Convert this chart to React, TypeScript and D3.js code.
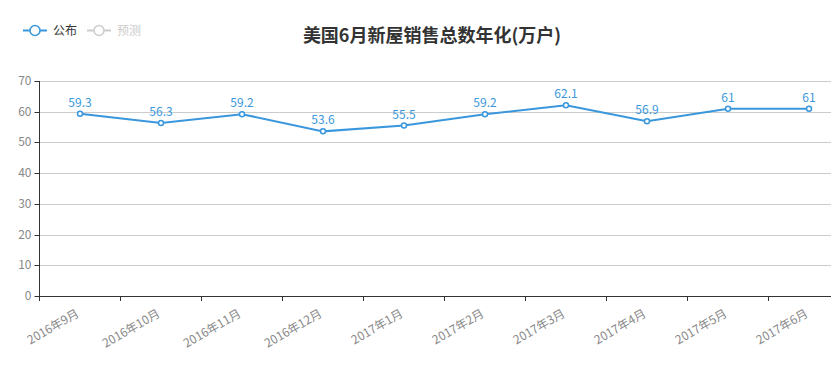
import React from "react";
import * as d3 from "d3";

const categories = ["2016年9月", "2016年10月", "2016年11月", "2016年12月", "2017年1月", "2017年2月", "2017年3月", "2017年4月", "2017年5月", "2017年6月"];
const published = [59.3, 56.3, 59.2, 53.6, 55.5, 59.2, 62.1, 56.9, 61, 61];
const yTicks = [0, 10, 20, 30, 40, 50, 60, 70];

const W = 831, H = 373;
const left = 39.5, right = 849.5, top = 81, bottom = 296;
const color = "#3a97dc";
const font = "'Microsoft YaHei', 'Noto Sans CJK SC', sans-serif";

export default function App() {
  const x = d3.scaleBand<string>().domain(categories).range([left, right]);
  const y = d3.scaleLinear().domain([0, 70]).range([bottom, top]);
  const cx = (c: string) => (x(c) ?? 0) + x.bandwidth() / 2;
  const line = d3.line<number>().x((_, i) => cx(categories[i])).y((d) => y(d));
  return (
    <svg width={W} height={H} style={{ position: "absolute", left: 0, top: 0, fontFamily: font }}>
      <rect width={W} height={H} fill="#fff" />
      <text x={432} y={42} textAnchor="middle" fontSize={18} fontWeight="bold" fill="#333">美国6月新屋销售总数年化(万户)</text>
      {/* legend */}
      <g>
        <line x1={23} x2={47} y1={30.5} y2={30.5} stroke={color} strokeWidth={2} />
        <circle cx={35} cy={30.5} r={5} fill="#fff" stroke={color} strokeWidth={1.5} />
        <text x={53} y={35} fontSize={12} fill="#333">公布</text>
        <line x1={87} x2={111} y1={30.5} y2={30.5} stroke="#ccc" strokeWidth={2} />
        <circle cx={99} cy={30.5} r={5} fill="#fff" stroke="#ccc" strokeWidth={1.5} />
        <text x={117} y={35} fontSize={12} fill="#ccc">预测</text>
      </g>
      {yTicks.map((t) => (
        <g key={t}>
          {t > 0 && <line x1={left} x2={W} y1={Math.round(y(t)) + 0.5} y2={Math.round(y(t)) + 0.5} stroke="#ccc" />}
          <line x1={left - 5} x2={left} y1={Math.round(y(t)) + 0.5} y2={Math.round(y(t)) + 0.5} stroke="#333" />
          <text x={left - 8} y={y(t) + 4} textAnchor="end" fontSize={12} fill="#888">{t}</text>
        </g>
      ))}
      <line x1={left} x2={left} y1={top} y2={bottom + 0.5} stroke="#333" />
      <line x1={left} x2={W} y1={bottom + 0.5} y2={bottom + 0.5} stroke="#333" />
      {categories.map((c) => (
        <line key={c} x1={x(c)} x2={x(c)} y1={bottom} y2={bottom + 5} stroke="#333" />
      ))}
      {categories.map((c) => (
        <text key={c} transform={`translate(${cx(c)},${bottom + 20}) rotate(-30)`} textAnchor="end" fontSize={12} fill="#888">{c}</text>
      ))}
      <path d={line(published) ?? ""} fill="none" stroke={color} strokeWidth={2} />
      {published.map((v, i) => (
        <g key={i}>
          <circle cx={cx(categories[i])} cy={y(v)} r={2.5} fill="#fff" stroke={color} strokeWidth={1.5} />
          <text x={cx(categories[i])} y={y(v) - 7} textAnchor="middle" fontSize={12} fill={color}>{v}</text>
        </g>
      ))}
    </svg>
  );
}
